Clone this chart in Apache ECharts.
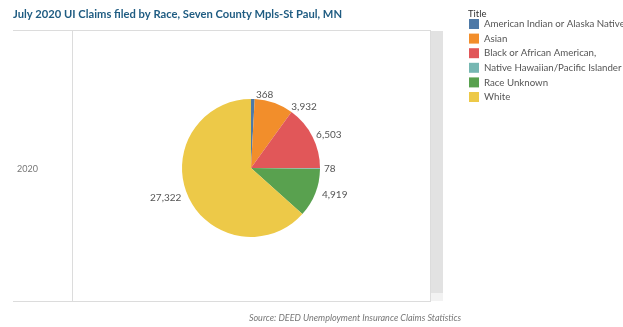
<!DOCTYPE html>
<html>
<head>
<meta charset="utf-8">
<script src="https://cdn.jsdelivr.net/npm/echarts@6/dist/echarts.min.js"></script>
<style>
html,body{margin:0;padding:0;background:#fff;}
#c{width:623px;height:327px;}
</style>
</head>
<body>
<div id="c"></div>
<script>
var titleText = 'July 2020 UI Claims filed by Race, Seven County Mpls-St Paul, MN';
var sourceText = 'Source: DEED Unemployment Insurance Claims Statistics';
var rowLabel = '2020';
var legendTitle = 'Title';
var categories = ['American Indian or Alaska Native', 'Asian', 'Black or African American,', 'Native Hawaiian/Pacific Islander', 'Race Unknown', 'White'];
var values = [368, 3932, 6503, 78, 4919, 27322];
var colors = ['#4e79a7', '#f28e2b', '#e15759', '#76b7b2', '#59a14f', '#edc948'];

var chart = echarts.init(document.getElementById('c'), null, {renderer: 'canvas'});
var data = categories.map(function (c, i) {
  return {name: c, value: values[i], itemStyle: {color: colors[i]}};
});
var font = 'Lato, sans-serif';
chart.setOption({
  animation: false,
  backgroundColor: '#ffffff',
  title: {
    text: titleText, left: 8, top: 4,
    textStyle: {fontFamily: font, fontSize: 11.2, fontWeight: 'bold', color: '#1f5c82'}
  },
  legend: {
    orient: 'vertical', left: 464, top: 14, right: 0, padding: [5, 0, 5, 5],
    itemWidth: 10, itemHeight: 10, itemGap: 4.6, icon: 'rect',
    selectedMode: false,
    textStyle: {fontFamily: font, fontSize: 9.7, color: '#555', overflow: 'none'},
    data: categories
  },
  graphic: [
    {type: 'line', shape: {x1: 13, y1: 30.5, x2: 431, y2: 30.5}, style: {stroke: '#dcdcdc', lineWidth: 1}, silent: true},
    {type: 'line', shape: {x1: 13, y1: 301.5, x2: 431, y2: 301.5}, style: {stroke: '#dcdcdc', lineWidth: 1}, silent: true},
    {type: 'line', shape: {x1: 72.5, y1: 30, x2: 72.5, y2: 301}, style: {stroke: '#dcdcdc', lineWidth: 1}, silent: true},
    {type: 'line', shape: {x1: 430.5, y1: 30, x2: 430.5, y2: 301}, style: {stroke: '#dcdcdc', lineWidth: 1}, silent: true},
    {type: 'rect', shape: {x: 431, y: 31, width: 12, height: 262}, style: {fill: '#e2e2e2'}, silent: true},
    {type: 'rect', shape: {x: 431, y: 293, width: 12, height: 8}, style: {fill: '#f2f2f2'}, silent: true},
    {type: 'text', x: 17, y: 169, style: {text: rowLabel, fontFamily: font, fontSize: 9, fill: '#777', verticalAlign: 'middle'}, silent: true},
    {type: 'text', x: 468, y: 13.5, style: {text: legendTitle, fontFamily: font, fontSize: 9.5, fill: '#333', verticalAlign: 'middle'}, silent: true},
    {type: 'text', x: 355, y: 318, style: {text: sourceText, fontFamily: font, fontSize: 9, fontStyle: 'italic', fill: '#777', align: 'center', verticalAlign: 'middle'}, silent: true}
  ],
  series: [{
    type: 'pie',
    center: [251, 168],
    radius: 69,
    startAngle: 90,
    clockwise: true,
    avoidLabelOverlap: true,
    itemStyle: {borderWidth: 0},
    label: {
      show: true, position: 'outside', fontFamily: font, fontSize: 10, color: '#555',
      distanceToLabelLine: 3,
      formatter: function (p) { return p.value.toLocaleString('en-US'); }
    },
    labelLine: {show: false, length: 4, length2: 0},
    emphasis: {disabled: true},
    data: data
  }]
});
</script>
</body>
</html>
